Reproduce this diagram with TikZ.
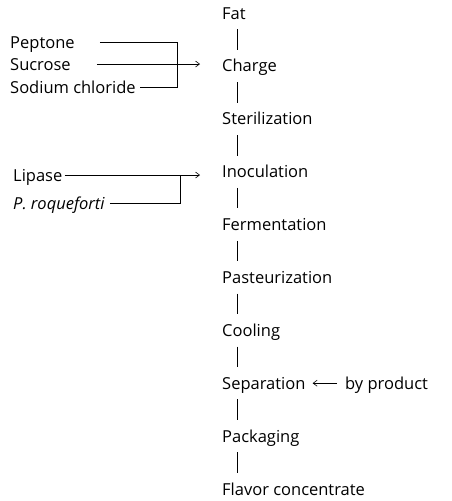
\documentclass[tikz,border=0pt]{standalone}
\usepackage{fontspec}
\setmainfont{Open Sans}
\usetikzlibrary{arrows.meta}
\begin{document}
\begin{tikzpicture}[x=1pt,y=-1pt,
  lbl/.style={anchor=west,inner sep=0pt,font=\fontsize{16.5}{18}\selectfont,text height=12pt,text depth=0pt},
  flow/.style={draw,line width=0.6pt,shorten >=10pt,shorten <=10pt},
  feed/.style={draw,line width=0.6pt},
  arr/.style={-{Straight Barb[length=4pt,width=6pt]}}]
\useasboundingbox (0,0) rectangle (451,501);
\node[lbl] (fat)  at (222,13) {Fat};
\node[lbl] (charge) at (222,65.9) {Charge};
\node[lbl] (steril) at (222,118.8) {Sterilization};
\node[lbl] (inoc) at (222,171.7) {Inoculation};
\node[lbl] (ferm) at (222,224.6) {Fermentation};
\node[lbl] (past) at (222,277.4) {Pasteurization};
\node[lbl] (cool) at (222,330.3) {Cooling};
\node[lbl] (sep) at (222,383.2) {Separation};
\node[lbl] (pack) at (222,436.1) {Packaging};
\node[lbl] (flav) at (222,489) {Flavor concentrate};
\node[lbl] (byp) at (345,383.2) {by product};
\node[lbl] (pep) at (10,42) {Peptone};
\node[lbl] (suc) at (10,64) {Sucrose};
\node[lbl] (nacl) at (10,87) {Sodium chloride};
\node[lbl] (lip) at (13,175) {Lipase};
\node[lbl] (roq) at (13,203) {\itshape P. roqueforti};
\foreach \a/\b in {fat/charge,charge/steril,steril/inoc,inoc/ferm,ferm/past,past/cool,cool/sep,sep/pack,pack/flav}
  \draw[flow] ([xshift=15pt]\a.south west) -- ([xshift=15pt]\b.north west);
\coordinate (b1) at (177,42);
\coordinate (b2) at (180,175);
\draw[feed] ([xshift=25pt]pep.east) -- (b1) |- ([xshift=4pt]nacl.east);
\draw[feed,arr] ([xshift=26pt]suc.east) -- ([xshift=-22pt]charge.west |- suc.east);
\draw[feed,arr] ([xshift=2pt]lip.east) -- ([xshift=-22pt]inoc.west |- lip.east);
\draw[feed] ([xshift=5pt]roq.east) -| (b2);
\draw[feed,arr] ([xshift=-8pt]byp.west) -- ([xshift=7pt]sep.east);
\end{tikzpicture}
\end{document}
